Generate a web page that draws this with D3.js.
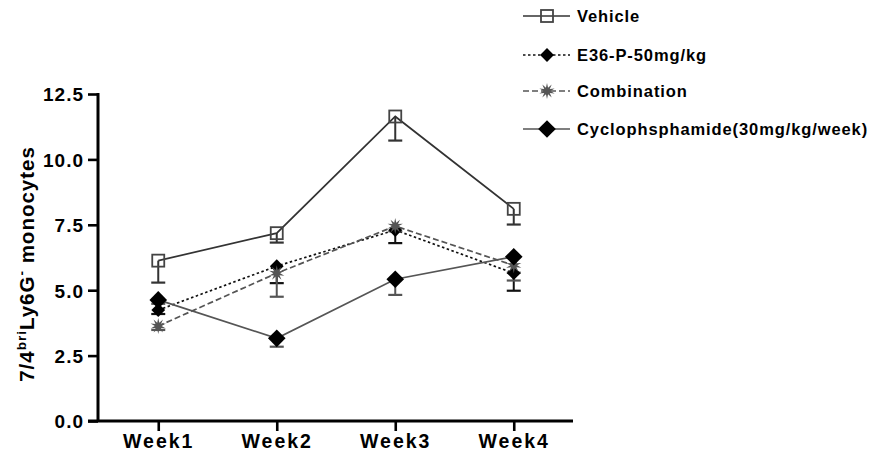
<!DOCTYPE html>
<html><head><meta charset="utf-8">
<script src="https://cdn.jsdelivr.net/npm/d3@7"></script>
<style>
body{margin:0;background:#fff;}
text{font-family:"Liberation Sans",Arial,sans-serif;font-weight:bold;}
</style></head>
<body><svg id="c" width="873" height="459"></svg>
<script>
const weeks = ["Week1","Week2","Week3","Week4"];
const yTicks = [0,2.5,5,7.5,10,12.5];
const seriesNames = ["Vehicle","E36-P-50mg/kg","Combination","Cyclophsphamide(30mg/kg/week)"];
const vehicleMean = [6.13,7.18,11.64,8.11];
const vehicleErr  = [0.84,0.36,0.92,0.60];
const e36Mean = [4.24,5.92,7.30,5.65];
const e36Err  = [0.15,0.65,0.50,0.67];
const comboMean = [3.63,5.65,7.45,5.95];
const comboErr  = [0.15,0.90,0.20,0.58];
const cycloMean = [4.63,3.16,5.42,6.28];
const cycloErr  = [0.15,0.32,0.60,0.61];

const svg = d3.select("#c");
const y = d3.scaleLinear().domain([0,12.5]).range([421,94]);
const x = d3.scalePoint().domain(weeks).range([99,573]).padding(0.5);

const star = (ro, ri, n) => {
  const pts = [];
  for (let i=0;i<2*n;i++){const a=Math.PI*i/n; const r=i%2?ri:ro; pts.push([Math.sin(a)*r,-Math.cos(a)*r]);}
  return "M"+pts.map(p=>p.join(",")).join("L")+"Z";
};
const series = [
  {name:seriesNames[0], mean:vehicleMean, err:vehicleErr, color:"#333", dash:null, lw:1.7,
   marker:g=>g.append("rect").attr("x",-6).attr("y",-6).attr("width",12).attr("height",12).style("fill","none").style("stroke","#444").style("stroke-width",1.8)},
  {name:seriesNames[1], mean:e36Mean, err:e36Err, color:"#111", dash:"2.5,2.5", lw:1.7,
   marker:g=>g.append("path").attr("d",d3.symbol(d3.symbolSquare,95)()).attr("transform","rotate(45)").style("fill","#000")},
  {name:seriesNames[2], mean:comboMean, err:comboErr, color:"#555", dash:"6,3", lw:1.7,
   marker:g=>g.append("path").attr("d",star(8,3.4,10)).style("fill","#555")},
  {name:seriesNames[3], mean:cycloMean, err:cycloErr, color:"#555", dash:null, lw:1.7,
   marker:g=>g.append("path").attr("d",d3.symbol(d3.symbolSquare,155)()).attr("transform","rotate(45)").style("fill","#000")}
];

// axes
const yAxis = svg.append("g").attr("transform","translate(98,0)")
  .call(d3.axisLeft(y).tickValues(yTicks).tickFormat(d3.format(".1f")).tickSize(10).tickSizeOuter(0));
yAxis.select(".domain").style("stroke","#000").style("stroke-width","3px").attr("d","M0,93V421");
yAxis.selectAll(".tick line").style("stroke","#000").style("stroke-width","2.6px");
yAxis.selectAll(".tick text").style("font-size","19px").style("letter-spacing","1px").style("fill","#000").attr("x",-14).attr("dy","0.36em");

const xAxis = svg.append("g").attr("transform","translate(0,421)")
  .call(d3.axisBottom(x).tickSize(10).tickSizeOuter(0));
xAxis.select(".domain").style("stroke","#000").style("stroke-width","3px").attr("d","M88,0H573");
xAxis.selectAll(".tick line").style("stroke","#000").style("stroke-width","2.6px");
xAxis.selectAll(".tick text").style("font-size","19.5px").style("letter-spacing","2px").style("fill","#000").attr("y",13).attr("dy","0.71em");

svg.append("text").attr("transform","translate(34,264) rotate(-90)").attr("text-anchor","middle")
  .style("font-size","20.5px").style("letter-spacing","1px").style("fill","#000")
  .call(t=>{t.append("tspan").text("7/4");
            t.append("tspan").text("bri").style("font-size","13.5px").attr("dy",-8);
            t.append("tspan").text("Ly6G").attr("dy",8);
            t.append("tspan").text("-").style("font-size","13.5px").attr("dy",-8);
            t.append("tspan").text(" monocytes").attr("dy",8);});

const line = d3.line().x((d,i)=>x(weeks[i])).y(d=>y(d));
series.forEach(s=>{
  svg.append("path").attr("d",line(s.mean)).style("fill","none").style("stroke",s.color)
    .style("stroke-width",s.lw+"px").style("stroke-dasharray",s.dash||"none");
});
series.forEach(s=>{
  const g = svg.append("g");
  s.mean.forEach((m,i)=>{
    const cx=x(weeks[i]), y0=y(m), y1=y(m-s.err[i]);
    g.append("line").attr("x1",cx).attr("x2",cx).attr("y1",y0).attr("y2",y1).style("stroke",s.color).style("stroke-width","2px");
    g.append("line").attr("x1",cx-7).attr("x2",cx+7).attr("y1",y1).attr("y2",y1).style("stroke",s.color).style("stroke-width","2.2px");
  });
});
series.forEach(s=>{
  s.mean.forEach((m,i)=>{
    const g = svg.append("g").attr("transform",`translate(${x(weeks[i])},${y(m)})`);
    s.marker(g);
  });
});

// legend
const legY = [16,55,91,129];
series.forEach((s,i)=>{
  const g = svg.append("g").attr("transform",`translate(0,${legY[i]})`);
  g.append("line").attr("x1",523).attr("x2",570).attr("y1",0).attr("y2",0).style("stroke",s.color)
    .style("stroke-width","1.6px").style("stroke-dasharray",s.dash||"none");
  const mg = g.append("g").attr("transform","translate(547,0)");
  s.marker(mg);
  g.append("text").attr("x",577).attr("y",0).attr("dy","0.36em").style("font-size","16.5px").style("letter-spacing","0.9px").style("fill","#000").text(s.name);
});
</script></body></html>
